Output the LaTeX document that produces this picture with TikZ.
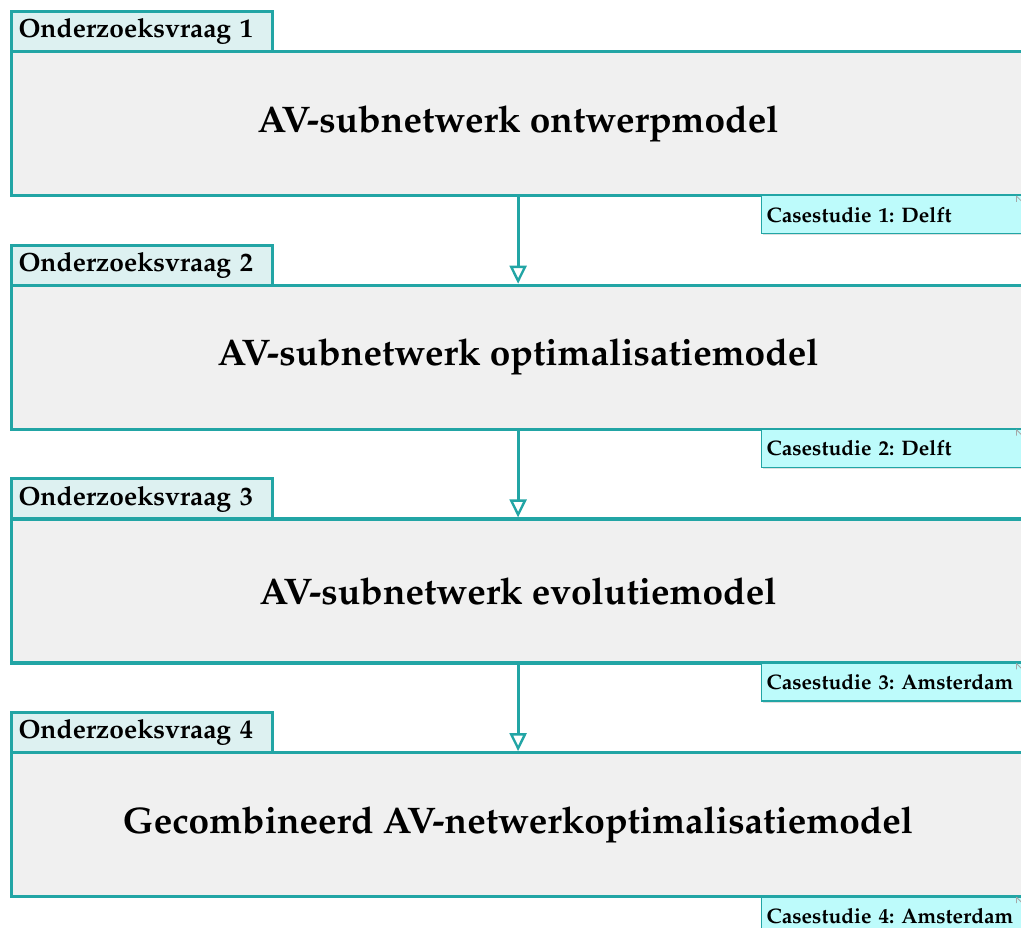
\documentclass[tikz,border=0pt]{standalone}
\usepackage[T1]{fontenc}
\usepackage{mathpazo}
\usetikzlibrary{arrows.meta,shadows}
\frenchspacing

\definecolor{rqline}{HTML}{22A5A5}
\definecolor{rqtab}{HTML}{DDF1F1}
\definecolor{rqbox}{HTML}{F0F0F0}
\definecolor{rqnote}{HTML}{BDFBFB}

\tikzset{
  x=1pt, y=-1pt,
  tabbox/.style={draw=rqline, line width=3pt, fill=rqtab, anchor=north west,
    minimum width=261pt, minimum height=40pt, inner sep=0pt,
    text width=247pt, align=left,
    font=\bfseries\fontsize{26.4}{30}\selectfont},
  modelbox/.style={draw=rqline, line width=3.2pt, fill=rqbox, anchor=north west,
    minimum width=1013pt, minimum height=144pt, inner sep=0pt,
    font=\bfseries\fontsize{37}{42}\selectfont},
  casenote/.style={draw=rqline, line width=1.4pt, fill=rqnote, anchor=north west,
    minimum width=262pt, minimum height=38pt, inner sep=0pt,
    text width=252pt, align=left,
    drop shadow={shadow xshift=1.5pt, shadow yshift=-1.5pt, opacity=0.25},
    font=\bfseries\fontsize{21}{24}\selectfont},
  flow/.style={draw=rqline, line width=2.8pt,
    -{Triangle[open, length=18pt, width=17pt, line width=2.4pt]}},
}

\begin{document}
\begin{tikzpicture}
  \useasboundingbox (0,0) rectangle (1021,928);
  \clip (0,0) rectangle (1021,928);

  \foreach \i/\model/\case in {
      1/AV-subnetwerk ontwerpmodel/Casestudie 1: Delft,
      2/AV-subnetwerk optimalisatiemodel/Casestudie 2: Delft,
      3/AV-subnetwerk evolutiemodel/Casestudie 3: Amsterdam,
      4/Gecombineerd AV-netwerkoptimalisatiemodel/Casestudie 4: Amsterdam} {
    \pgfmathsetmacro{\top}{10 + 233.7*(\i-1)}
    \node[tabbox] (tab\i) at (10,\top) {Onderzoeksvraag \i};
    \node[modelbox] (box\i) at (10,\top+40) {\raisebox{-3pt}{\model}};
    \node[casenote] (note\i) at (761,\top+185) {\case};
    % folded corner of the note
    \draw[gray!70, line width=0.8pt]
      ([xshift=-8pt, yshift=-1pt]note\i.north east) -- ++(0,6)
      ([xshift=-8pt, yshift=-1pt]note\i.north east) -- ++(6,6);
  }

  \draw[flow] (box1.south) -- (box2.north);
  \draw[flow] (box2.south) -- (box3.north);
  \draw[flow] (box3.south) -- (box4.north);
\end{tikzpicture}
\end{document}
